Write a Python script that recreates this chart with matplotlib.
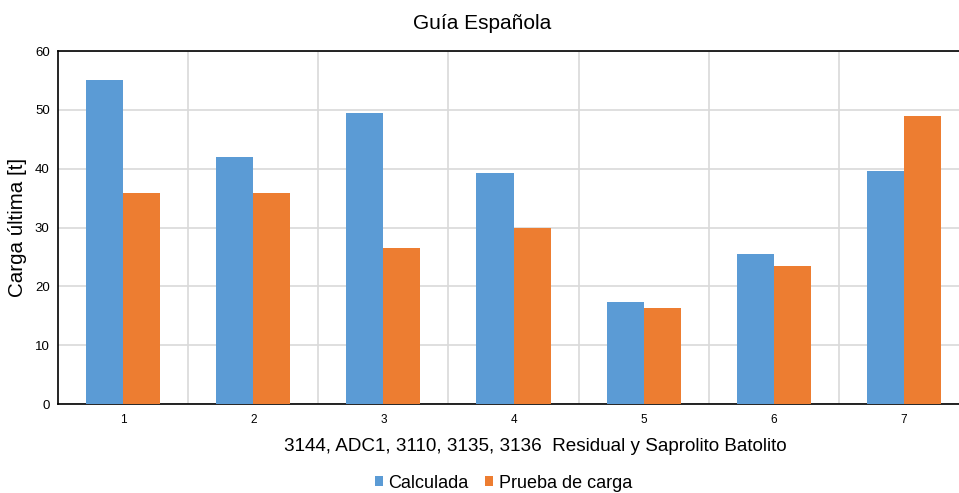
import numpy as np
import matplotlib
matplotlib.use('Agg')
import matplotlib.pyplot as plt

plt.rcParams['font.family'] = ['Liberation Sans', 'DejaVu Sans']

categorias = ['1', '2', '3', '4', '5', '6', '7']
calculada = [55.0, 42.0, 49.5, 39.2, 17.3, 25.5, 39.6]
prueba_carga = [35.8, 35.8, 26.5, 29.9, 16.3, 23.5, 49.0]

azul = '#5B9BD5'
naranja = '#ED7D31'

fig = plt.figure(figsize=(9.59, 4.93), dpi=100)
# el eje se sale por la derecha, el grupo 7 queda cortado en el borde
ax = fig.add_axes([0.0605, 0.1805, 0.95, 0.716])

x = np.arange(len(categorias))
ancho = 0.285
ax.bar(x - ancho / 2, calculada, ancho, color=azul, label='Calculada', zorder=3)
ax.bar(x + ancho / 2, prueba_carga, ancho, color=naranja, label='Prueba de carga', zorder=3)

ax.set_xlim(-0.5, len(categorias) - 0.5)
ax.set_ylim(0, 60)
ax.set_yticks(range(0, 61, 10))
ax.set_xticks(x)
ax.set_xticklabels(categorias, fontsize=8.5)
ax.tick_params(axis='y', labelsize=9.5, length=0, pad=6)
ax.tick_params(axis='x', length=0, pad=7)

# lineas de separacion entre grupos
ax.set_xticks(np.arange(0.5, len(categorias) - 0.5, 1), minor=True)
ax.grid(axis='x', which='minor', color='#d9d9d9', linewidth=1.2, zorder=0)
ax.grid(axis='y', which='major', color='#d9d9d9', linewidth=1.2, zorder=0)
ax.tick_params(which='minor', length=0)

for lado in ['left', 'bottom', 'top']:
    ax.spines[lado].set_color('black')
    ax.spines[lado].set_linewidth(1.2)
ax.spines['right'].set_visible(False)

ax.set_ylabel('Carga última [t]', fontsize=14.8)
ax.yaxis.set_label_coords(-0.044, 0.5)
ax.set_xlabel('3144, ADC1, 3110, 3135, 3136  Residual y Saprolito Batolito', fontsize=13.6)
ax.xaxis.set_label_coords(0.524, -0.12)
ax.xaxis.label.set_va('center')
ax.yaxis.label.set_va('center')
fig.text(0.503, 0.953, 'Guía Española', ha='center', va='center', fontsize=15)

fig.legend(loc='center', bbox_to_anchor=(0.525, 0.02), ncol=2, frameon=False,
           fontsize=13, handlelength=0.45, handleheight=0.45, handletextpad=0.3,
           columnspacing=0.9)

fig.savefig('out.png', dpi=100)
